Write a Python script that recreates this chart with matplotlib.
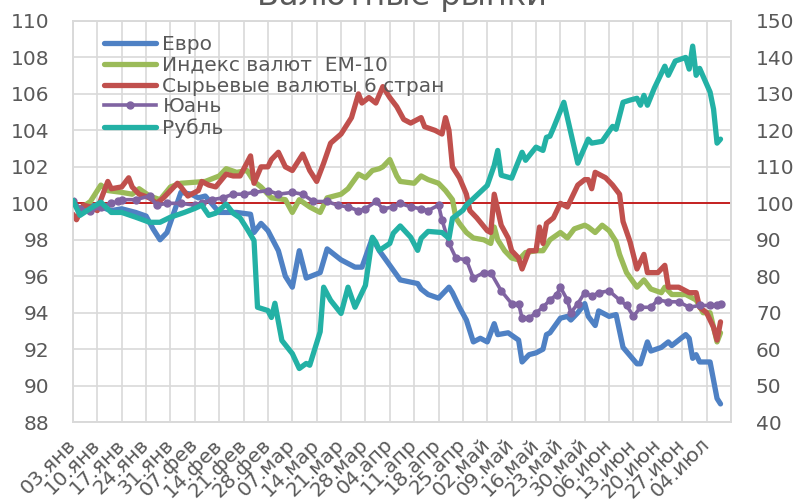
import matplotlib
import matplotlib.pyplot as plt
import numpy as np

matplotlib.use("Agg")

# days counted from 03.01.2022
week_labels = ["03.янв", "10.янв", "17.янв", "24.янв", "31.янв", "07.фев", "14.фев",
               "21.фев", "28.фев", "07.мар", "14.мар", "21.мар", "28.мар", "04.апр",
               "11.апр", "18.апр", "25.апр", "02.май", "09.май", "16.май", "23.май",
               "30.май", "06.июн", "13.июн", "20.июн", "27.июн", "04.июл"]

euro_days = [0, 2, 5, 8, 11, 14, 18, 21, 23, 25, 27, 31, 34, 36, 38, 42, 47, 51, 52, 54,
             56, 59, 61, 63, 65, 67, 71, 73, 77, 81, 83, 86, 88, 91, 94, 99, 100, 102, 105,
             108, 109, 111, 113, 115, 117, 119, 121, 122, 125, 128, 129, 131, 133, 135, 136,
             137, 140, 142, 143, 145, 147, 148, 150, 151, 154, 156, 158, 162, 163, 165, 166,
             169, 171, 172, 176, 177, 178, 179, 180, 183, 185, 186]
euro = [100.0, 99.7, 99.9, 99.8, 99.6, 99.7, 99.5, 99.3, 98.6, 98.0, 98.4, 100.6, 100.5,
        100.3, 100.4, 99.5, 99.5, 99.4, 98.4, 98.9, 98.5, 97.4, 96.0, 95.4, 97.4, 95.9,
        96.2, 97.5, 96.9, 96.5, 96.5, 98.1, 97.4, 96.6, 95.8, 95.6, 95.3, 95.0, 94.8, 95.4,
        95.1, 94.3, 93.6, 92.4, 92.6, 92.4, 93.4, 92.8, 92.9, 92.5, 91.3, 91.7, 91.8, 92.0,
        92.8, 92.9, 93.7, 93.8, 93.6, 94.0, 94.5, 93.8, 93.3, 94.1, 93.8, 93.9, 92.1, 91.2,
        91.2, 92.4, 91.9, 92.1, 92.4, 92.2, 92.8, 92.6, 91.5, 91.7, 91.3, 91.3, 89.3, 89.0]

em_days = [0, 2, 5, 8, 10, 14, 17, 19, 22, 25, 28, 31, 38, 42, 44, 47, 50, 52, 54, 57, 61,
           63, 65, 68, 71, 73, 77, 79, 82, 84, 86, 88, 89, 91, 93, 94, 98, 100, 102, 105,
           107, 109, 110, 111, 113, 115, 118, 120, 121, 122, 124, 126, 128, 130, 133, 135,
           137, 140, 142, 144, 147, 148, 150, 152, 154, 156, 157, 159, 162, 164, 166, 169,
           170, 172, 176, 179, 181, 183, 185, 186]
em10 = [99.9, 99.7, 100.1, 101.0, 100.7, 100.6, 100.5, 100.8, 100.4, 100.2, 100.9, 101.1,
        101.2, 101.5, 101.9, 101.7, 101.8, 101.2, 100.9, 100.3, 100.2, 99.5, 100.2, 99.8,
        99.5, 100.3, 100.5, 100.8, 101.6, 101.4, 101.8, 101.9, 102.0, 102.4, 101.5, 101.2,
        101.1, 101.5, 101.3, 101.1, 100.7, 100.2, 99.2, 98.9, 98.4, 98.1, 98.0, 97.8, 98.7,
        98.0, 97.4, 97.0, 96.9, 97.3, 97.4, 97.4, 98.0, 98.4, 98.1, 98.6, 98.8, 98.7, 98.4,
        98.8, 98.5, 97.9, 97.2, 96.2, 95.4, 95.8, 95.3, 95.1, 95.4, 95.0, 95.0, 94.7, 94.0,
        94.0, 92.4, 92.9]

comm_days = [0, 1, 3, 5, 7, 8, 10, 11, 14, 16, 17, 19, 22, 24, 26, 28, 30, 31, 33, 36, 37,
             39, 41, 44, 46, 48, 51, 52, 54, 56, 57, 59, 61, 63, 66, 68, 70, 72, 74, 77, 80,
             82, 83, 85, 87, 89, 91, 93, 95, 97, 100, 101, 104, 106, 107, 108, 109, 111, 113,
             114, 116, 119, 120, 121, 123, 125, 126, 128, 129, 131, 133, 134, 135, 136, 138,
             140, 142, 145, 147, 148, 149, 150, 153, 155, 157, 158, 160, 162, 164, 165, 168,
             170, 171, 174, 177, 179, 180, 182, 184, 185, 186]
comm6 = [99.4, 99.1, 99.9, 99.8, 99.6, 100.2, 101.2, 100.8, 100.9, 101.4, 100.9, 100.5,
         100.3, 100.0, 100.3, 100.7, 101.1, 100.9, 100.4, 100.7, 101.2, 101.0, 100.9, 101.6,
         101.5, 101.5, 102.6, 101.1, 102.0, 102.0, 102.4, 102.8, 102.0, 101.8, 102.7, 101.8,
         101.2, 102.2, 103.3, 103.8, 104.7, 106.0, 105.5, 105.8, 105.5, 106.4, 105.8, 105.3,
         104.6, 104.4, 104.7, 104.2, 104.0, 103.8, 104.7, 104.0, 102.0, 101.4, 100.5, 99.6,
         99.2, 98.5, 98.4, 100.5, 98.8, 98.1, 97.4, 97.0, 96.4, 97.4, 97.4, 98.7, 97.8, 98.9,
         99.2, 100.0, 99.8, 101.0, 101.3, 101.3, 100.8, 101.7, 101.4, 101.0, 100.5, 99.0,
         97.9, 96.4, 97.2, 96.2, 96.2, 96.6, 95.4, 95.4, 95.1, 95.1, 94.3, 94.0, 93.2, 92.5,
         93.5]

yuan_days = [0, 2, 5, 8, 11, 13, 14, 18, 22, 24, 27, 31, 35, 37, 40, 43, 46, 49, 52, 56,
             59, 63, 66, 69, 73, 76, 79, 82, 84, 87, 89, 92, 94, 97, 100, 102, 105, 106, 108,
             110, 113, 115, 118, 120, 123, 126, 128, 129, 131, 133, 135, 137, 139, 140, 142,
             143, 145, 147, 149, 151, 154, 157, 159, 161, 163, 166, 168, 171, 174, 177, 180,
             183, 185, 186]
yuan = [100.1, 99.7, 99.6, 99.8, 100.0, 100.1, 100.2, 100.2, 100.4, 99.9, 100.0, 100.0,
        99.9, 100.0, 100.2, 100.3, 100.5, 100.5, 100.6, 100.7, 100.5, 100.6, 100.5, 100.1,
        100.1, 99.9, 99.8, 99.6, 99.7, 100.1, 99.7, 99.8, 100.0, 99.8, 99.7, 99.6, 99.9,
        99.1, 97.8, 97.0, 96.9, 95.9, 96.2, 96.2, 95.2, 94.5, 94.5, 93.7, 93.7, 94.0, 94.3,
        94.7, 95.0, 95.4, 94.7, 94.0, 94.5, 95.1, 94.9, 95.1, 95.2, 94.7, 94.4, 93.8, 94.3,
        94.3, 94.7, 94.6, 94.6, 94.3, 94.4, 94.4, 94.4, 94.5]

rub_days = [0, 2, 5, 8, 11, 14, 18, 22, 25, 28, 32, 35, 37, 39, 41, 44, 46, 48, 50, 52, 53,
            56, 57, 58, 60, 63, 65, 67, 68, 71, 72, 74, 77, 79, 81, 84, 86, 87, 88, 91, 92,
            94, 97, 99, 100, 102, 106, 108, 109, 112, 113, 116, 119, 121, 122, 123, 126, 129,
            130, 133, 135, 136, 137, 138, 141, 145, 148, 149, 152, 155, 156, 158, 160, 162,
            163, 164, 165, 167, 170, 171, 173, 176, 177, 178, 179, 180, 183, 184, 185, 186]
ruble = [100.8, 96.7, 98.6, 100.3, 97.5, 97.5, 96.2, 94.8, 94.8, 96.2, 97.5, 98.6, 99.5,
         96.7, 97.3, 99.8, 97.3, 96.0, 93.0, 89.8, 71.5, 70.6, 68.7, 72.6, 62.4, 58.8, 54.7,
         56.1, 55.6, 64.8, 77.0, 73.4, 69.8, 77.0, 71.5, 77.5, 90.7, 89.3, 87.1, 89.0, 91.8,
         93.8, 90.7, 87.1, 90.4, 92.3, 92.0, 90.4, 95.9, 98.1, 99.5, 102.2, 104.9, 110.4,
         114.5, 107.7, 106.9, 114.0, 111.8, 115.4, 114.5, 118.1, 118.4, 120.6, 127.7, 111.0,
         117.6, 116.5, 117.0, 121.1, 120.3, 127.7, 128.3, 128.8, 126.9, 129.6, 126.9, 131.6,
         137.6, 135.1, 139.0, 140.0, 136.8, 143.1, 135.1, 137.0, 130.5, 125.8, 116.5, 117.6]

text_color = "#595959"
grid_color = "#D9D9D9"
plt.rcParams["font.family"] = ["DejaVu Sans"]

fig = plt.figure(figsize=(7.96, 4.99), dpi=100)
ax = fig.add_axes([0.0917, 0.154, 0.8266, 0.804])
ax2 = ax.twinx()

style = dict(solid_joinstyle="round", solid_capstyle="round")
ax.axhline(100, color="#C00000", lw=1.2, zorder=1)
h1, = ax.plot(euro_days, euro, color="#4F81C4", lw=3.8, label="Евро", zorder=3, **style)
h2, = ax.plot(em_days, em10, color="#9BBB59", lw=3.8, label="Индекс валют  ЕМ-10", zorder=3, **style)
h3, = ax.plot(comm_days, comm6, color="#C0504D", lw=3.8, label="Сырьевые валюты 6 стран", zorder=3, **style)
h4, = ax.plot(yuan_days, yuan, color="#8064A2", lw=2.6, marker="o", ms=5, label="Юань", zorder=3)
h5, = ax2.plot(rub_days, ruble, color="#23B1A5", lw=3.8, label="Рубль", zorder=3, **style)

ax.set_xlim(0, 189)
ax.set_ylim(88, 110)
ax.set_yticks(np.arange(88, 111, 2))
ax2.set_ylim(40, 150)
ax2.set_yticks(np.arange(40, 151, 10))
ax.set_xticks(np.arange(0, 190, 7), minor=True)
ax.set_xticks(np.arange(0, 183, 7))
ax.set_xticklabels(week_labels, rotation=45, ha="right", va="center", rotation_mode="anchor")
ax.grid(True, which="both", color=grid_color, lw=1.2, zorder=0)
ax.set_axisbelow(True)

for a in (ax, ax2):
    for s in a.spines.values():
        s.set_color(grid_color)
        s.set_linewidth(1.2)
    a.tick_params(which="both", length=0, labelsize=14.5, labelcolor=text_color)
ax.tick_params(axis="y", pad=17)
ax.tick_params(axis="x", pad=14)
ax2.tick_params(axis="y", pad=18)

leg = ax2.legend(handles=[h1, h2, h3, h4, h5], loc="upper left", bbox_to_anchor=(0.035, 0.985),
                 frameon=False, fontsize=14.5, handlelength=2.6, handletextpad=0.3,
                 labelspacing=0.09, borderaxespad=0, numpoints=1, labelcolor=text_color)

fig.text(0.505, 0.99, "Валютные рынки", ha="center", va="baseline", fontsize=23, color=text_color)

fig.savefig("out.png", dpi=100)
